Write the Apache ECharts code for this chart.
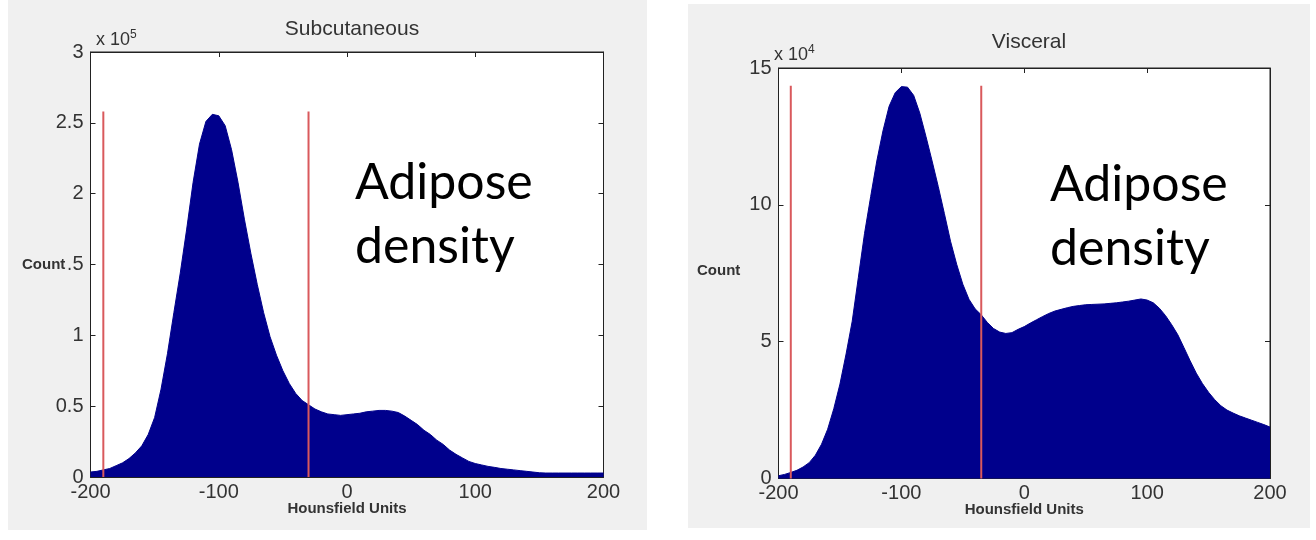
<!DOCTYPE html>
<html>
<head>
<meta charset="utf-8">
<title>Adipose density</title>
<style>
  body{margin:0;background:#fff;}
  .panel{position:absolute;background:#f0f0f0;}
  #chart{position:absolute;left:0;top:0;width:1316px;height:540px;}
</style>
</head>
<body>
<div class="panel" style="left:8px;top:0;width:639px;height:530px;"></div>
<div class="panel" style="left:688px;top:4px;width:622px;height:524px;"></div>
<div id="chart"></div>
<script src="https://cdn.jsdelivr.net/npm/echarts@6/dist/echarts.min.js"></script>
<script>
// bin centres in Hounsfield units (5 HU apart)
var hu = [];
for (var h = -200; h <= 200; h += 5) hu.push(h);

// Subcutaneous counts, x 10^5
var subCounts = [
  0.035,0.04,0.05,0.06,0.08,0.10,0.13,0.17,0.22,0.30,
  0.42,0.62,0.87,1.16,1.44,1.75,2.08,2.35,2.51,2.56,
  2.55,2.48,2.31,2.08,1.82,1.58,1.36,1.16,0.99,0.86,
  0.75,0.66,0.59,0.54,0.51,0.48,0.46,0.445,0.44,0.435,
  0.44,0.445,0.45,0.46,0.465,0.47,0.47,0.465,0.455,0.43,
  0.40,0.37,0.33,0.30,0.26,0.23,0.19,0.16,0.135,0.11,
  0.095,0.085,0.075,0.068,0.06,0.055,0.05,0.045,0.04,0.035,
  0.03,0.028,0.028,0.028,0.028,0.028,0.028,0.028,0.028,0.028,0.028
];
// Visceral counts, x 10^4
var visCounts = [
  0.10,0.15,0.22,0.30,0.42,0.58,0.85,1.25,1.80,2.55,
  3.45,4.55,5.75,7.35,8.95,10.3,11.6,12.7,13.6,14.1,
  14.32,14.3,14.0,13.35,12.5,11.6,10.67,9.68,8.67,7.83,
  7.1,6.55,6.2,5.98,5.7,5.48,5.35,5.3,5.33,5.45,
  5.55,5.68,5.80,5.92,6.03,6.12,6.18,6.24,6.29,6.32,
  6.35,6.36,6.37,6.38,6.40,6.42,6.45,6.48,6.52,6.56,
  6.52,6.42,6.22,5.95,5.62,5.25,4.78,4.30,3.85,3.47,
  3.15,2.88,2.66,2.50,2.39,2.29,2.21,2.13,2.05,1.97,1.88
];
// red threshold lines
var subCuts = [-190, -30];
var subCutTop = 2.58;
var visCuts = [-190, -35];
var visCutTop = 14.35;

var xTicks = {min: -200, max: 200, interval: 100};
var subY = {min: 0, max: 3, interval: 0.5};
var visY = {min: 0, max: 15, interval: 5};

var navy = '#00008c';
var red = '#d9595c';
var txt = '#333';
var mFont = 'Liberation Sans';
var axLine = {show: true, onZero: false, lineStyle: {color: '#222'}};
var axTick = {show: true, inside: true, length: 5, lineStyle: {color: '#222'}};
var countStyle = {fontFamily: mFont, fontSize: 15, fontWeight: 'bold', color: txt};

function pairs(xs, ys) {
  return xs.map(function (x, i) { return [x, ys[i]]; });
}
function cutLines(cuts, top, xi, yi) {
  return cuts.map(function (c) {
    return {
      type: 'line', xAxisIndex: xi, yAxisIndex: yi, data: [[c, 0], [c, top]],
      showSymbol: false, silent: true, z: 5,
      lineStyle: {color: red, width: 2}
    };
  });
}
function bottomX(grid) {
  return {
    type: 'value', gridIndex: grid, min: xTicks.min, max: xTicks.max, interval: xTicks.interval,
    name: 'Hounsfield Units', nameLocation: 'middle', nameGap: 24, nameMoveOverlap: false,
    nameTextStyle: {fontFamily: mFont, fontSize: 15, fontWeight: 'bold', color: txt},
    axisLine: axLine, axisTick: axTick,
    axisLabel: {fontFamily: mFont, fontSize: 20, color: txt, margin: 5},
    splitLine: {show: false}
  };
}
function topX(grid) {
  return {
    type: 'value', gridIndex: grid, position: 'top', min: xTicks.min, max: xTicks.max, interval: xTicks.interval,
    axisLine: axLine, axisTick: axTick,
    axisLabel: {show: false}, splitLine: {show: false}
  };
}
function leftY(grid, sc) {
  return {
    type: 'value', gridIndex: grid, min: sc.min, max: sc.max, interval: sc.interval,
    axisLine: axLine, axisTick: axTick,
    axisLabel: {fontFamily: mFont, fontSize: 20, color: txt, margin: 7},
    splitLine: {show: false}
  };
}
function rightY(grid, sc) {
  return {
    type: 'value', gridIndex: grid, position: 'right', min: sc.min, max: sc.max, interval: sc.interval,
    axisLine: axLine, axisTick: axTick,
    axisLabel: {show: false}, splitLine: {show: false}
  };
}

var chart = echarts.init(document.getElementById('chart'), null, {renderer: 'canvas'});
var option = {
  animation: false,
  backgroundColor: 'transparent',
  title: [
    {text: 'Subcutaneous', left: 347, top: 14, textAlign: 'center',
     textStyle: {fontFamily: mFont, fontSize: 21, fontWeight: 'normal', color: txt}},
    {text: 'Visceral', left: 1024, top: 27, textAlign: 'center',
     textStyle: {fontFamily: mFont, fontSize: 21, fontWeight: 'normal', color: txt}},
    {text: 'x 10{s|5}', left: 91, top: 24,
     textStyle: {fontFamily: mFont, fontSize: 18, fontWeight: 'normal', color: txt,
       rich: {s: {fontFamily: mFont, fontSize: 12, color: txt, verticalAlign: 'top', padding: [0, 0, 10, 0]}}}},
    {text: 'x 10{s|4}', left: 769, top: 39,
     textStyle: {fontFamily: mFont, fontSize: 18, fontWeight: 'normal', color: txt,
       rich: {s: {fontFamily: mFont, fontSize: 12, color: txt, verticalAlign: 'top', padding: [0, 0, 10, 0]}}}},
    // MATLAB's y label sits on top of the "1" of the 1.5 tick
    {text: 'Count', left: 20, top: 253, padding: [4, 3, 4, 2], backgroundColor: '#f0f0f0', z: 10,
     textStyle: countStyle},
    {text: 'Count', left: 697, top: 263, padding: 0, textStyle: countStyle},
    {text: 'Adipose\ndensity', left: 350, top: 146,
     textStyle: {fontFamily: 'Lato', fontSize: 50, fontWeight: 'normal', color: '#000', lineHeight: 64}},
    {text: 'Adipose\ndensity', left: 1045, top: 148,
     textStyle: {fontFamily: 'Lato', fontSize: 50, fontWeight: 'normal', color: '#000', lineHeight: 64}}
  ],
  grid: [
    {left: 90.5, top: 52, width: 513, height: 425, show: true, backgroundColor: '#fff', borderColor: '#222', borderWidth: 1},
    {left: 778.5, top: 68, width: 491.5, height: 410.5, show: true, backgroundColor: '#fff', borderColor: '#222', borderWidth: 1}
  ],
  xAxis: [bottomX(0), topX(0), bottomX(1), topX(1)],
  yAxis: [leftY(0, subY), rightY(0, subY), leftY(1, visY), rightY(1, visY)],
  series: [
    {type: 'line', xAxisIndex: 0, yAxisIndex: 0, data: pairs(hu, subCounts),
     showSymbol: false, silent: true, z: 2,
     lineStyle: {color: navy, width: 1}, areaStyle: {color: navy, opacity: 1}},
    {type: 'line', xAxisIndex: 2, yAxisIndex: 2, data: pairs(hu, visCounts),
     showSymbol: false, silent: true, z: 2,
     lineStyle: {color: navy, width: 1}, areaStyle: {color: navy, opacity: 1}}
  ].concat(cutLines(subCuts, subCutTop, 0, 0), cutLines(visCuts, visCutTop, 2, 2))
};
chart.setOption(option);
</script>
</body>
</html>
